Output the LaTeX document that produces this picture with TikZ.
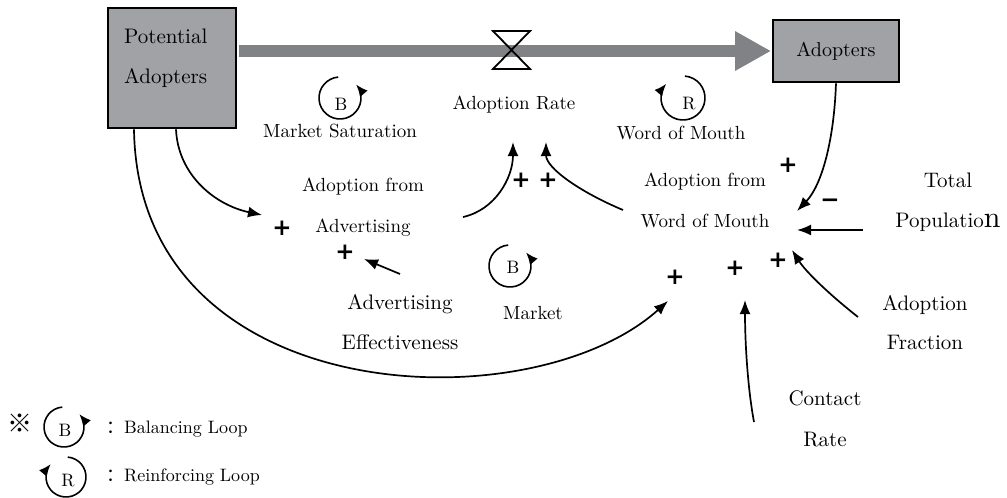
\documentclass[tikz,border=0pt]{standalone}
\usepackage{fontspec}
\setmainfont{lmroman10-regular.otf}
\newfontfamily\cjk{Noto Sans CJK SC}
\newfontfamily\signfont{DejaVu Sans}
\usetikzlibrary{arrows.meta}
\definecolor{stockfill}{RGB}{161,162,166}
\definecolor{pipegray}{RGB}{129,130,134}
\newcommand\fsz[2]{\fontsize{#1}{#2}\selectfont}
\begin{document}
\begin{tikzpicture}[x=1pt,y=-1pt,
  stock/.style={draw=black, line width=2.6pt, fill=stockfill, inner sep=0pt},
  link/.style={line width=1.7pt, -{Latex[length=14pt,width=11pt]}},
  loopline/.style={line width=1.6pt, -{Latex[length=12pt,width=10pt]}},
  lbl/.style={inner sep=0pt, align=center, font={\fsz{19}{41}}},
  big/.style={inner sep=0pt, align=center, font={\fsz{21}{40}}},
  letter/.style={inner sep=0pt, font={\fsz{18}{18}}},
  sign/.style={inner sep=0pt, font={\signfont\bfseries\fsz{23}{23}}},
]
\useasboundingbox (0,0) rectangle (1007,498);

% stocks
\node[stock, minimum width=128pt, minimum height=120pt] (pa) at (172,68) {};
\node[big, align=left, anchor=west] (pat) at (124,58) {Potential\\Adopters};
\node[stock, minimum width=126pt, minimum height=62pt, font={\fsz{20}{20}}] (ad) at (836,51) {Adopters};

% flow pipe with valve
\coordinate (pipeend) at (735,51);
\draw[pipegray, line width=12pt] ([xshift=1.3pt]pa.east |- pipeend) -- (pipeend);
\fill[pipegray] (735,31) -- ([xshift=-1.3pt]ad.west |- pipeend) -- (735,71) -- cycle;
\draw[line width=1.8pt, line join=miter] (493,31) -- (530,31) -- (493,69) -- (530,69) -- cycle;

% variables
\node[lbl] (ar) at (514,105) {Adoption Rate};
\node[lbl] (afa) at (363,207) {Adoption from\\Advertising};
\node[lbl] (afw) at (705,200) {Adoption from\\Word of Mouth};
\node[big] (aee) at (400,322) {Advertising\\Effectiveness};
\node[big] (tp) at (948,202) {Total\\Populatio{\fsz{30}{30}n}};
\node[big, font={\fsz{21}{39}}] (af) at (925,323) {Adoption\\Fraction};
\node[big, font={\fsz{21}{41}}] (cr) at (825,419) {Contact\\Rate};

% loop markers
\draw[loopline] (340,98) ++(-95:21) arc[start angle=-95, end angle=-400, radius=21];
\node[letter] (lb1) at (341,104) {B};
\node[lbl] (ms) at (340,131) {Market Saturation};
\draw[loopline] (683,98) ++(-85:22) arc[start angle=-85, end angle=220, radius=22];
\node[letter] (lr1) at (689,104) {R};
\node[lbl] (wm) at (681,133) {Word of Mouth};
\draw[loopline] (510,266) ++(-95:21) arc[start angle=-95, end angle=-400, radius=21];
\node[letter] (lb2) at (513,267) {B};
\node[lbl] (mk) at (533,313) {Market};

% connector end points
\coordinate (afa-in) at (262,215);
\coordinate (afa-in2) at (364,259);
\coordinate (afa-out) at (463,217);
\coordinate (ar-in1) at (513,142);
\coordinate (ar-in2) at (546,142);
\coordinate (afw-out) at (623,210);
\coordinate (aee-out) at (400,274);
\coordinate (afw-in1) at (668,301);
\coordinate (afw-in2) at (797,211);
\coordinate (afw-in3) at (797,230);
\coordinate (afw-in4) at (792,250);
\coordinate (afw-in5) at (745,300);
\coordinate (tp-out) at (863,230);
\coordinate (af-out) at (858,317);
\coordinate (cr-out) at (754,422);

% causal links
\draw[link] ([xshift=4pt]pa.south) .. controls (178,175) and (215,205) .. (afa-in);
\draw[link] ([xshift=-38pt]pa.south) .. controls (138,410) and (530,425) .. (afw-in1);
\draw[link] (afa-out) .. controls (495,210) and (513,178) .. (ar-in1);
\draw[link] (afw-out) .. controls (580,192) and (546,168) .. (ar-in2);
\draw[link] (aee-out) -- (afa-in2);
\draw[link] (ad.south) .. controls (834,140) and (822,185) .. (afw-in2);
\draw[link] (tp-out) -- (afw-in3);
\draw[link] (af-out) .. controls (830,295) and (806,272) .. (afw-in4);
\draw[link] (cr-out) .. controls (748,390) and (745,345) .. (afw-in5);

% polarities
\node[sign] (p1) at (282,228) {+};
\node[sign] (p2) at (345,252) {+};
\node[sign] (p3) at (521,180) {+};
\node[sign] (p4) at (548,180) {+};
\node[sign] (p5) at (675,277) {+};
\node[sign] (p6) at (735,268) {+};
\node[sign] (p7) at (778,260) {+};
\node[sign] (p8) at (788,165) {+};
\node[sign] (m1) at (830,203) {−};

% legend
\node[inner sep=0pt, font={\cjk\bfseries\fsz{25}{25}}] (ref) at (20,423) {※};
\draw[loopline] (64,427) ++(-95:20) arc[start angle=-95, end angle=-400, radius=20];
\node[letter] (lb3) at (65,430) {B};
\draw[loopline] (66,477) ++(-85:20) arc[start angle=-85, end angle=220, radius=20];
\node[letter] (lr3) at (68,481) {R};
\node[inner sep=0pt, anchor=base west, font={\fsz{18}{18}}] (lgb) at (106,433) {{\cjk ：}Balancing Loop};
\node[inner sep=0pt, anchor=base west, font={\fsz{18}{18}}] (lgr) at (106,481) {{\cjk ：}Reinforcing Loop};
\end{tikzpicture}
\end{document}
